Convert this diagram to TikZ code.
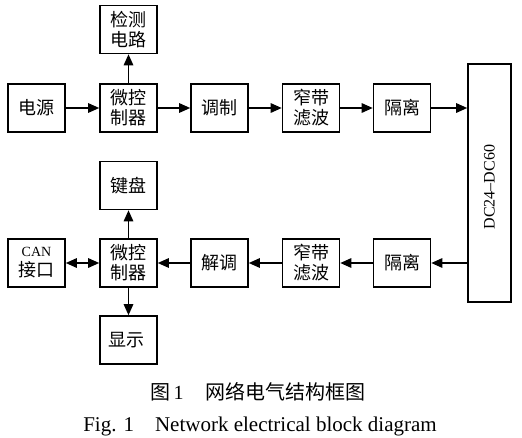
\documentclass[tikz,border=0pt]{standalone}
\usepackage{fontspec}
\setmainfont{Liberation Serif}
\newfontfamily\cjk{Noto Sans CJK SC}
\usetikzlibrary{arrows.meta}

\begin{document}
\begin{tikzpicture}[
        x=1pt,
        y=-1pt,
        line join=miter,
        >={Triangle[length=11pt,width=9.5pt]},
        blk/.style={draw, line width=1.6pt, minimum width=57pt, minimum height=48pt,
            inner sep=0pt, align=center, font=\cjk\fontsize{18}{20}\selectfont},
        link/.style={->, line width=1.4pt}
    ]

    \useasboundingbox (0,0) rectangle (522,437);

    \foreach \nm/\px/\py/\txt in {
        power/36.5/108/{电源},
        mcua/128.5/108/{微控\\制器},
        detect/128.5/29.5/{检测\\电路},
        moda/219.5/108/{调制},
        filta/311/108/{窄带\\滤波},
        isoa/402/108/{隔离},
        isob/402/263/{隔离},
        filtb/311/263/{窄带\\滤波},
        demod/219.5/263/{解调},
        mcub/128.5/263/{微控\\制器},
        can/36.5/263/{{\rmfamily\fontsize{14}{20}\selectfont CAN}\\接口},
        keyb/128.5/185.5/{键盘},
        disp/128.5/340/{显示}
    } {
        \node[blk] (\nm) at (\px,\py) {\txt};
    }

    \node[blk, minimum width=43pt, minimum height=238pt] (dc) at (489.5,183) {};
    \node[rotate=90, font=\fontsize{16}{16}\selectfont] (dctxt) at ([yshift=-4pt]dc.center) {DC24--DC60};

    \foreach \a/\b in {power/mcua, mcua/detect, mcua/moda, moda/filta, filta/isoa,
        isob/filtb, filtb/demod, demod/mcub, mcub/keyb, mcub/disp} {
        \draw[link] (\a) -- (\b);
    }
    \draw[link] (isoa) -- (isoa -| dc.west);
    \draw[link] (dc.west |- isob) -- (isob);
    \draw[link, <->] (mcub) -- (can);

    % caption
    \node[anchor=base, font=\cjk\fontsize{20}{20}\selectfont] (capcn) at (258,399)
        {图\,{\rmfamily 1}\hspace{1.1em}网络电气结构框图};
    \node[anchor=base, font=\fontsize{21}{21}\selectfont] (capen) at (260,431)
        {Fig. 1\quad Network electrical block diagram};

\end{tikzpicture}
\end{document}
